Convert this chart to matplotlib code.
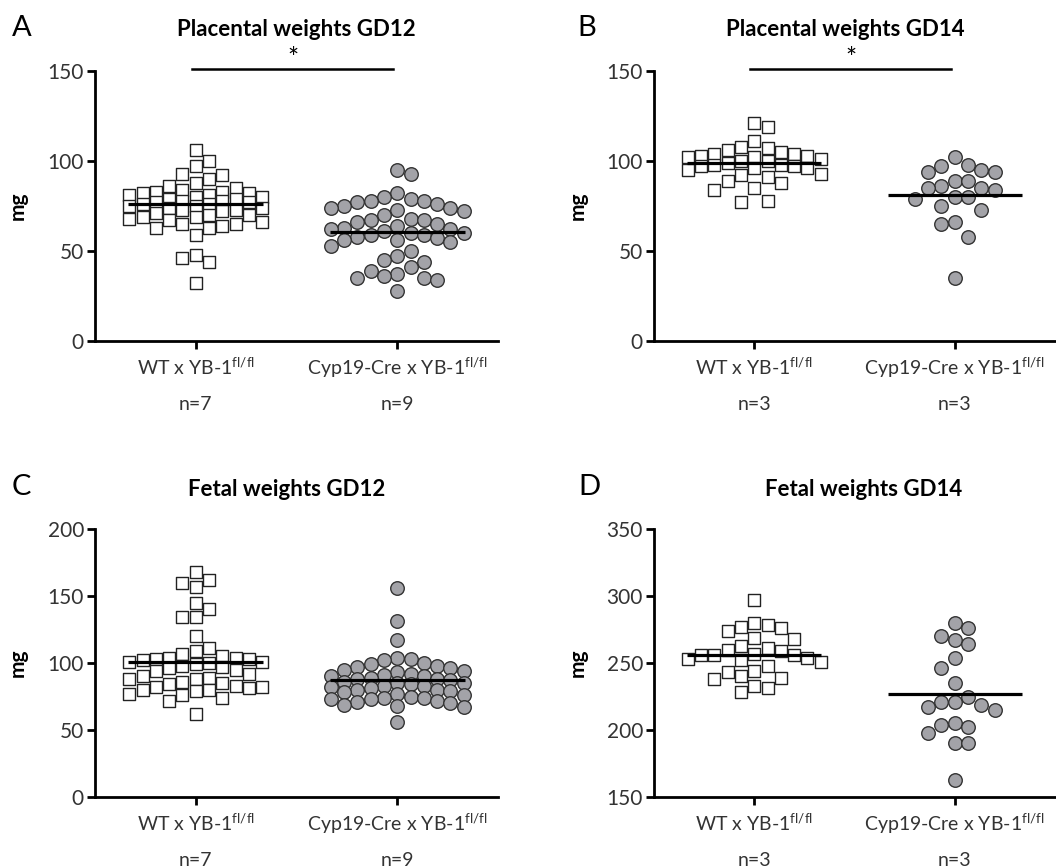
import numpy as np
import matplotlib
matplotlib.use('Agg')
import matplotlib.pyplot as plt

plt.rcParams['font.family'] = ['Lato', 'DejaVu Sans']
plt.rcParams['mathtext.fontset'] = 'custom'
plt.rcParams['mathtext.rm'] = 'Lato'
plt.rcParams['mathtext.it'] = 'Lato:italic'
plt.rcParams['mathtext.bf'] = 'Lato:bold'
plt.rcParams['mathtext.default'] = 'regular'

# Dati (mg)
groups = [r'WT x YB-1$^{fl/fl}$', r'Cyp19-Cre x YB-1$^{fl/fl}$']

wt_plac_gd12 = [106, 100, 97, 93, 92, 90, 88, 86, 85, 84, 83, 83, 82, 82, 81, 81, 80, 80,
                79, 79, 78, 78, 77, 77, 76, 76, 75, 75, 74, 74, 73, 73, 72, 71, 70, 70,
                69, 69, 68, 67, 66, 65, 65, 64, 63, 63, 59, 48, 46, 44, 32]
cyp_plac_gd12 = [95, 93, 82, 80, 79, 78, 78, 77, 76, 75, 74, 74, 73, 72, 70, 68, 67, 67,
                 66, 65, 64, 63, 62, 62, 61, 60, 60, 59, 59, 58, 57, 56, 56, 55, 53, 50,
                 47, 45, 44, 41, 39, 37, 36, 35, 35, 34, 28]

wt_plac_gd14 = [121, 119, 111, 108, 107, 106, 105, 104, 104, 103, 103, 102, 102, 101, 100,
                100, 99, 98, 98, 97, 97, 96, 96, 95, 93, 92, 91, 89, 88, 85, 84, 78, 77]
cyp_plac_gd14 = [102, 98, 97, 95, 94, 94, 89, 89, 86, 85, 85, 84, 80, 80, 79, 75, 73, 66,
                 65, 58, 35]

wt_fet_gd12 = [168, 162, 160, 157, 145, 140, 134, 134, 120, 111, 109, 107, 105, 104, 104,
               103, 103, 102, 101, 101, 100, 99, 98, 97, 96, 95, 94, 92, 90, 89, 88, 88,
               86, 85, 84, 83, 82, 82, 81, 80, 80, 79, 77, 76, 74, 72, 62]
cyp_fet_gd12 = [156, 131, 117, 104, 103, 102, 100, 99, 98, 97, 96, 95, 94, 93, 92, 91, 90,
                90, 89, 88, 88, 87, 86, 85, 85, 84, 83, 83, 82, 81, 80, 80, 79, 78, 77,
                76, 75, 74, 74, 73, 73, 72, 71, 70, 69, 68, 67, 56]

wt_fet_gd14 = [297, 280, 278, 277, 276, 274, 269, 268, 263, 261, 260, 259, 257, 256, 256,
               256, 254, 253, 252, 251, 248, 244, 243, 240, 239, 238, 233, 231, 228]
cyp_fet_gd14 = [280, 276, 270, 267, 264, 254, 246, 235, 225, 221, 221, 219, 217, 215, 205,
                204, 202, 198, 190, 190, 163]

means_plac_gd12 = [76, 60.5]
means_plac_gd14 = [98.7, 81.1]
means_fet_gd12 = [100.5, 87.4]
means_fet_gd14 = [256, 226.5]

n_plac_gd12 = ['n=7', 'n=9']
n_plac_gd14 = ['n=3', 'n=3']
n_fet_gd12 = ['n=7', 'n=9']
n_fet_gd14 = ['n=3', 'n=3']


def swarm(vals, py, step, gap, kmax=5):
    """colonne alla Prism: sposta i punti di una colonna se si sovrappongono"""
    vals = np.asarray(vals, float)
    ys = vals * py
    ks = np.zeros(len(vals), int)
    placed = {}
    flip = 1
    for i in np.argsort(-vals):
        cands = [0]
        for m in range(1, kmax + 1):
            cands += [flip * m, -flip * m]
        best = None
        for k in cands:
            if all(abs(ys[i] - yy) >= gap for yy in placed.get(k, [])):
                best = k
                break
        if best is None:
            best = max(cands, key=lambda k: min(abs(ys[i] - yy) for yy in placed[k]))
        if best != 0:
            flip = -1 if best > 0 else 1
        placed.setdefault(best, []).append(ys[i])
        ks[i] = best
    return ks * step


W, H = 1056, 868
fig = plt.figure(figsize=(W / 100, H / 100), dpi=100)

panels = [
    ('A', 'Placental weights GD12', [95, 71, 498, 341], (0, 150), np.arange(0, 151, 50),
     wt_plac_gd12, cyp_plac_gd12, means_plac_gd12, n_plac_gd12, True, (12, 28), 296),
    ('B', 'Placental weights GD14', [654, 71, 1055, 341], (0, 150), np.arange(0, 151, 50),
     wt_plac_gd14, cyp_plac_gd14, means_plac_gd14, n_plac_gd14, True, (577, 28), 845),
    ('C', 'Fetal weights GD12', [95, 529, 498, 797], (0, 200), np.arange(0, 201, 50),
     wt_fet_gd12, cyp_fet_gd12, means_fet_gd12, n_fet_gd12, False, (12, 487), 287),
    ('D', 'Fetal weights GD14', [654, 529, 1055, 797], (150, 350), np.arange(150, 351, 50),
     wt_fet_gd14, cyp_fet_gd14, means_fet_gd14, n_fet_gd14, False, (578, 487), 864),
]

for letter, title, box, ylim, yticks, wt, cyp, means, ns, star, lpos, tx in panels:
    l, t, r, b = box
    ax = fig.add_axes([l / W, (H - b) / H, (r - l) / W, (b - t) / H])
    ax.set_xlim(-0.5, 1.5)
    ax.set_ylim(*ylim)
    py = (b - t) / (ylim[1] - ylim[0])
    px = (r - l) / 2.0

    dx = swarm(wt, py, 13.3, 14.5) / px
    ax.scatter(0 + dx, wt, marker='s', s=85, facecolor='white', edgecolor='#222222',
               linewidth=1.0, zorder=3, clip_on=False)
    dx = swarm(cyp, py, 13.3, 14.5) / px
    ax.scatter(1 + dx, cyp, marker='o', s=95, facecolor='#a3a3a8', edgecolor='#333333',
               linewidth=1.0, zorder=3, clip_on=False)
    for i, m in enumerate(means):
        ax.plot([i - 0.335, i + 0.335], [m, m], color='black', lw=2.3, zorder=4,
                solid_capstyle='butt')

    for s in ['top', 'right']:
        ax.spines[s].set_visible(False)
    for s in ['left', 'bottom']:
        ax.spines[s].set_linewidth(2.0)
    ax.set_yticks(yticks)
    ax.set_xticks([0, 1])
    ax.set_xticklabels(groups)
    ax.tick_params(axis='both', length=6, width=2.0, labelsize=15, labelcolor='#333333')
    ax.tick_params(axis='x', pad=5, labelsize=14)
    ax.tick_params(axis='y', pad=2)
    ax.set_ylabel('mg', fontsize=15, fontweight='bold')
    ax.yaxis.set_label_coords(-0.166, 0.5)

    for i, n in enumerate(ns):
        ax.text(i, -63.0 / (b - t), n, transform=ax.get_xaxis_transform(), ha='center',
                va='center', fontsize=14, color='#333333')

    if star:
        yy = 1 + (t - 69) / (b - t)
        ax.plot([-0.02, 0.98], [yy, yy], color='black', lw=1.8,
                transform=ax.get_xaxis_transform(), clip_on=False)
        ax.text(0.48, 1 + (t - 59) / (b - t), '*', transform=ax.get_xaxis_transform(),
                ha='center', va='center', fontsize=19)

    fig.text(lpos[0] / W, 1 - lpos[1] / H, letter, fontsize=21, ha='left', va='center')
    fig.text(tx / W, 1 - (lpos[1] + 2) / H, title, fontsize=16, fontweight='bold',
             ha='center', va='center')

fig.savefig('out.png', dpi=100)
